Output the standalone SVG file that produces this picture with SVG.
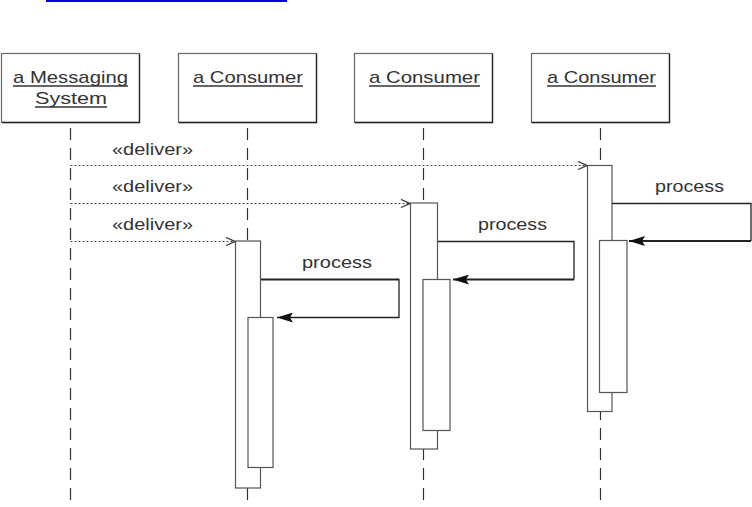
<svg xmlns="http://www.w3.org/2000/svg" width="752" height="507" viewBox="0 0 752 507">
<style>
text{font-family:"Liberation Sans",Arial,sans-serif;font-size:17px;fill:#333}
.obj{fill:#fff;stroke:#666;stroke-width:1.2}
.shadow{fill:none;stroke:#222;stroke-width:1.3}
.ul{stroke:#333;stroke-width:1.3}
.life{stroke:#333;stroke-width:1.2;stroke-dasharray:12 8;fill:none}
.msg{stroke:#444;stroke-width:1.1;stroke-dasharray:2 2;fill:none}
.act{fill:#fff;stroke:#555;stroke-width:1.2}
.proc{fill:none;stroke:#222;stroke-width:1.3}
.thick{stroke-width:2.2}
</style>
<defs>
<marker id="open" viewBox="0 0 10 10" refX="10" refY="5" markerWidth="10" markerHeight="10" markerUnits="userSpaceOnUse" orient="auto">
<path d="M1,1 L10,5 L1,9" fill="none" stroke="#333" stroke-width="1.3"/>
</marker>
<marker id="filled" viewBox="0 0 16 10" refX="16" refY="5" markerWidth="16" markerHeight="10" markerUnits="userSpaceOnUse" orient="auto">
<path d="M16,5 L0,0 L3,5 L0,10 Z" fill="#111"/>
</marker>
</defs>
<line x1="46" y1="1" x2="287" y2="1" stroke="#0000ee" stroke-width="2"/>
<g id="lifelines">
<line class="life" x1="70.5" y1="128" x2="70.5" y2="507"/>
<line class="life" x1="247.5" y1="128" x2="247.5" y2="507"/>
<line class="life" x1="423.5" y1="128" x2="423.5" y2="507"/>
<line class="life" x1="600.5" y1="128" x2="600.5" y2="507"/>
</g>
<g id="messaging-system">
<rect class="obj" x="1.5" y="53.5" width="138" height="69"/>
<polyline class="shadow" points="139.5,54 139.5,122.5 2,122.5"/>
<text x="13" y="83" textLength="115" lengthAdjust="spacingAndGlyphs">a Messaging</text>
<line class="ul" x1="13" y1="86" x2="128" y2="86"/>
<text x="35" y="104" textLength="72" lengthAdjust="spacingAndGlyphs">System</text>
<line class="ul" x1="35" y1="107" x2="107" y2="107"/>
</g>
<g id="consumer-1">
<rect class="obj" x="178.5" y="53.5" width="138" height="69"/>
<polyline class="shadow" points="316.5,54 316.5,122.5 179,122.5"/>
<text x="193" y="83" textLength="110" lengthAdjust="spacingAndGlyphs">a Consumer</text>
<line class="ul" x1="193" y1="86" x2="303" y2="86"/>
</g>
<g id="consumer-2">
<rect class="obj" x="354.5" y="53.5" width="138" height="69"/>
<polyline class="shadow" points="492.5,54 492.5,122.5 355,122.5"/>
<text x="369" y="83" textLength="111" lengthAdjust="spacingAndGlyphs">a Consumer</text>
<line class="ul" x1="369" y1="86" x2="480" y2="86"/>
</g>
<g id="consumer-3">
<rect class="obj" x="531.5" y="53.5" width="138" height="69"/>
<polyline class="shadow" points="669.5,54 669.5,122.5 532,122.5"/>
<text x="547" y="83" textLength="109" lengthAdjust="spacingAndGlyphs">a Consumer</text>
<line class="ul" x1="547" y1="86" x2="656" y2="86"/>
</g>
<g id="activations">
<rect class="act" x="235.5" y="241" width="25" height="247"/>
<rect class="act" x="248" y="317.5" width="25" height="150"/>
<rect class="act" x="410.5" y="203" width="27" height="246"/>
<rect class="act" x="423" y="279.5" width="27" height="151"/>
<rect class="act" x="587.5" y="165.5" width="24.5" height="246"/>
<rect class="act" x="599.5" y="240.5" width="27.5" height="152"/>
</g>
<g id="connectors">
<line class="msg" x1="70.5" y1="165.5" x2="587" y2="165.5" marker-end="url(#open)"/>
<line class="msg" x1="70.5" y1="203.5" x2="410" y2="203.5" marker-end="url(#open)"/>
<line class="msg" x1="70.5" y1="241.5" x2="235" y2="241.5" marker-end="url(#open)"/>
<text x="112" y="155" textLength="81" lengthAdjust="spacingAndGlyphs">«deliver»</text>
<text x="112" y="192" textLength="81" lengthAdjust="spacingAndGlyphs">«deliver»</text>
<text x="112" y="230" textLength="81" lengthAdjust="spacingAndGlyphs">«deliver»</text>
<polyline class="proc thick" points="261,279.5 399,279.5"/>
<polyline class="proc" points="399,279 399,317.5 277,317.5" marker-end="url(#filled)"/>
<text x="302" y="268" textLength="70" lengthAdjust="spacingAndGlyphs">process</text>
<polyline class="proc" points="438,241.5 574,241.5 574,279.5"/>
<polyline class="proc thick" points="574,279.5 453,279.5" marker-end="url(#filled)"/>
<text x="478" y="230" textLength="69" lengthAdjust="spacingAndGlyphs">process</text>
<polyline class="proc" points="612,203.5 751,203.5 751,241"/>
<polyline class="proc thick" points="751,241 629,241" marker-end="url(#filled)"/>
<text x="655" y="192" textLength="69" lengthAdjust="spacingAndGlyphs">process</text>
</g>
</svg>
